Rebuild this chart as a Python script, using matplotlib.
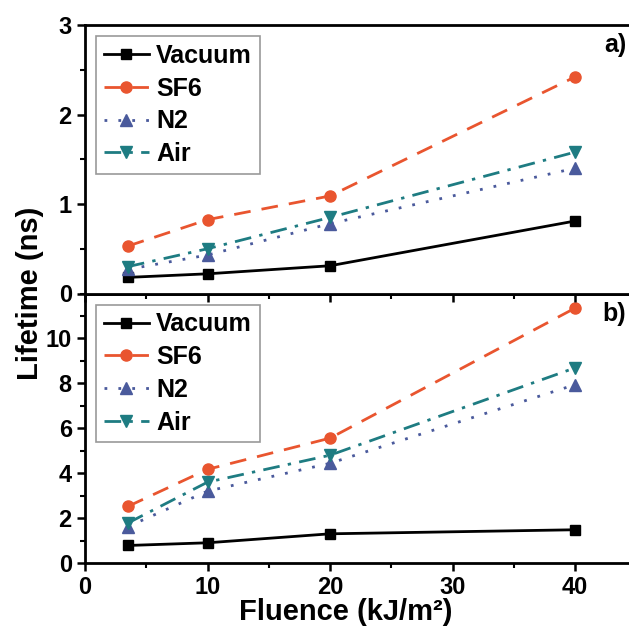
import numpy as np
import matplotlib
matplotlib.use('Agg')
from matplotlib import pyplot as plt

plt.rcParams['font.family'] = ['Liberation Sans', 'DejaVu Sans']
plt.rcParams['font.weight'] = 'bold'

fluence = [3.5, 10, 20, 40]
names = ['Vacuum', 'SF6', 'N2', 'Air']

# panel a)
vac_a = [0.18, 0.22, 0.31, 0.81]
sf6_a = [0.53, 0.825, 1.09, 2.42]
n2_a = [0.27, 0.43, 0.78, 1.40]
air_a = [0.30, 0.50, 0.85, 1.58]

# panel b)
vac_b = [0.78, 0.90, 1.30, 1.48]
sf6_b = [2.52, 4.17, 5.56, 11.35]
n2_b = [1.62, 3.2, 4.44, 7.94]
air_b = [1.78, 3.6, 4.8, 8.69]

colors = ['black', '#E9552F', '#4A5A9C', '#1E7C82']
styles = ['-', (0, (6, 4)), (0, (1, 4)), (0, (6, 3, 1.2, 3))]
markers = ['s', 'o', '^', 'v']
msizes = [7, 8, 8, 8]

W, H = 629, 635
fig = plt.figure(figsize=(W/100, H/100), dpi=100)

def box(l, t, r, b):
    return [l/W, 1 - b/H, (r - l)/W, (b - t)/H]

ax2 = fig.add_axes(box(85, 293.5, 629, 563))
ax1 = fig.add_axes(box(85, 25, 629, 293.5))
ax1.set_zorder(3)


def draw(ax, series, ylim, major, minor, tag):
    for vals, name, c, ls, m, ms in zip(series, names, colors, styles, markers, msizes):
        ax.plot(fluence, vals, color=c, linestyle=ls, marker=m, markersize=ms,
                lw=2, label=name, clip_on=False)
    ax.set_xlim(0, 44.4)
    ax.set_ylim(*ylim)
    ax.set_xticks(np.arange(0, 41, 10))
    ax.set_xticks(np.arange(5, 41, 10), minor=True)
    ax.set_yticks(np.arange(ylim[0], ylim[1] + 0.01, major))
    ax.set_yticks(np.arange(ylim[0], ylim[1] + 0.01, minor), minor=True)
    ax.tick_params(which='major', direction='out', length=6, width=1.8, labelsize=17)
    ax.tick_params(which='minor', direction='out', length=3.5, width=1.5)
    for s in ax.spines.values():
        s.set_linewidth(2)
    ax.spines['right'].set_visible(False)
    leg = ax.legend(loc='upper left', bbox_to_anchor=(0.0, 1.0), bbox_transform=ax.transAxes,
                    fancybox=False, edgecolor='#999999', framealpha=1,
                    prop={'size': 18, 'weight': 'bold'}, handlelength=1.8,
                    handletextpad=0.3, labelspacing=0.35, borderpad=0.3,
                    borderaxespad=0.45)
    leg.get_frame().set_linewidth(1.2)
    ax.text(0.995, 0.925, tag, transform=ax.transAxes, ha='right', va='center',
            fontsize=18, fontweight='bold')


draw(ax1, [vac_a, sf6_a, n2_a, air_a], (0, 3), 1, 0.5, 'a)')
draw(ax2, [vac_b, sf6_b, n2_b, air_b], (0, 12), 2, 1, 'b)')
ax1.set_yticks([0, 1, 2, 3])
ax1.tick_params(axis='x', labelbottom=False)
ax2.set_yticks([0, 2, 4, 6, 8, 10])

fig.text(30/W, 1 - 293/H, 'Lifetime (ns)', rotation=90, ha='center', va='center',
         fontsize=21, fontweight='bold')
fig.text(346/W, 1 - 612/H, 'Fluence (kJ/m²)', ha='center', va='center',
         fontsize=21, fontweight='bold')

fig.savefig('out.png', dpi=100)
